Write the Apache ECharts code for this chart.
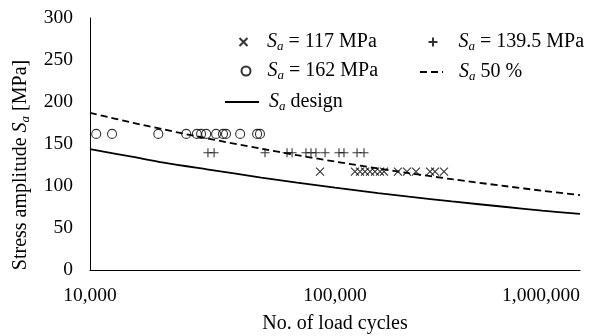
<!DOCTYPE html>
<html>
<head>
<meta charset="utf-8">
<script src="https://cdn.jsdelivr.net/npm/echarts@6/dist/echarts.min.js"></script>
<style>
  html, body { margin: 0; padding: 0; background: #fff; }
  #chart { width: 598px; height: 336px; }
</style>
</head>
<body>
<div id="chart"></div>
<script>
// test points, load cycles
const cycles117 = [86900, 120600, 126500, 132600, 139000, 145600, 152600, 158500, 180700, 196700, 214100, 244300, 256000, 278600];
const cycles139 = [30300, 32100, 51800, 63700, 66800, 76100, 79800, 83600, 91100, 103800, 108800, 123000, 131300];
const cycles162 = [10600, 12300, 19000, 24700, 27300, 28400, 29800, 32700, 34900, 35900, 41000, 48100, 49400];

// curves
const curveCycles = [10000, 15000, 20000, 30000, 50000, 70000, 100000, 150000, 200000, 300000, 500000, 700000, 1000000];
const design = [144, 134.6, 127.9, 119.9, 110.1, 104.1, 98.0, 91.6, 87.3, 81.6, 75.0, 70.8, 66.7];
const fifty = [187, 175.2, 167.3, 156.7, 144.4, 136.7, 129.1, 120.9, 115.4, 108.1, 99.7, 94.4, 89.1];

const yTicks = [0, 50, 100, 150, 200, 250, 300];

const font = 'Liberation Serif';
const rich = {
  i: { fontFamily: font, fontSize: 20, fontStyle: 'italic', color: '#000' },
  s: { fontFamily: font, fontSize: 13, fontStyle: 'italic', color: '#000', padding: [9, 0, 0, 0] }
};
const fmtName = name => name.replace('Sa', '{i|S}{s|a}');

const chart = echarts.init(document.getElementById('chart'));

const crossX = 'path://M0,0L10,10M10,0L0,10';
const crossPlus = 'path://M5,0L5,10M0,5L10,5';

const legendBase = (name, left, top, w, h, padLeft, hideSymbol) => ({
  data: [name],
  left: left,
  top: top,
  padding: 0,
  itemWidth: w,
  itemHeight: h,
  selectedMode: false,
  formatter: fmtName,
  itemStyle: hideSymbol ? { opacity: 0 } : {},
  textStyle: { fontFamily: font, fontSize: 20, color: '#000', padding: [0, 0, 0, padLeft], rich: rich }
});

chart.setOption({
  animation: false,
  textStyle: { fontFamily: font },
  grid: { left: 90, right: 18, top: 18, bottom: 66, outerBoundsMode: 'none' },
  legend: [
    legendBase('Sa = 117 MPa', 238.5, 32, 9, 8, 14),
    legendBase('Sa = 139.5 MPa', 427.5, 32, 9, 9, 16),
    legendBase('Sa = 162 MPa', 240.5, 61, 9, 9, 12),
    legendBase('Sa 50 %', 419, 62, 23, 9, 11, true),
    legendBase('Sa design', 224, 92, 34, 9, 5, true)
  ],
  xAxis: {
    type: 'log',
    logBase: 10,
    min: 10000,
    max: 1000000,
    name: 'No. of load cycles',
    nameLocation: 'middle',
    nameGap: 44,
    nameTextStyle: { fontFamily: font, fontSize: 20, color: '#000' },
    axisLine: { lineStyle: { color: '#000', width: 1 } },
    axisTick: { show: false },
    splitLine: { show: false },
    axisLabel: {
      fontFamily: font, fontSize: 19.5, color: '#000', margin: 16,
      alignMaxLabel: 'right',
      formatter: v => Math.round(v).toLocaleString('en-US')
    }
  },
  yAxis: {
    type: 'value',
    min: yTicks[0],
    max: yTicks[yTicks.length - 1],
    interval: 50,
    name: 'Stress amplitude {i|S}{s|a} [MPa]',
    nameLocation: 'middle',
    nameGap: 58,
    nameTextStyle: { fontFamily: font, fontSize: 20, color: '#000', rich: rich, padding: [0, 42, 0, 0] },
    axisLine: { show: true, lineStyle: { color: '#000', width: 1 } },
    axisTick: { show: false },
    splitLine: { show: false },
    axisLabel: { fontFamily: font, fontSize: 19.5, color: '#000', margin: 17 }
  },
  series: [
    {
      name: 'Sa = 117 MPa',
      type: 'scatter',
      symbol: crossX,
      symbolSize: 8,
      itemStyle: { color: 'transparent', borderColor: '#000', borderWidth: 1.1 },
      data: cycles117.map(n => [n, 117])
    },
    {
      name: 'Sa = 139.5 MPa',
      type: 'scatter',
      symbol: crossPlus,
      symbolSize: 9,
      itemStyle: { color: 'transparent', borderColor: '#000', borderWidth: 1.1 },
      data: cycles139.map(n => [n, 139.5])
    },
    {
      name: 'Sa = 162 MPa',
      type: 'scatter',
      symbol: 'circle',
      symbolSize: 9,
      itemStyle: { color: 'transparent', borderColor: '#000', borderWidth: 1.1 },
      data: cycles162.map(n => [n, 162])
    },
    {
      name: 'Sa 50 %',
      type: 'line',
      symbol: 'none',
      smooth: 0.3,
      lineStyle: { color: '#000', width: 1.8, type: [7, 4] },
      itemStyle: { color: '#000' },
      data: curveCycles.map((n, i) => [n, fifty[i]])
    },
    {
      name: 'Sa design',
      type: 'line',
      symbol: 'none',
      smooth: 0.3,
      lineStyle: { color: '#000', width: 1.8 },
      itemStyle: { color: '#000' },
      data: curveCycles.map((n, i) => [n, design[i]])
    }
  ]
});
</script>
</body>
</html>
